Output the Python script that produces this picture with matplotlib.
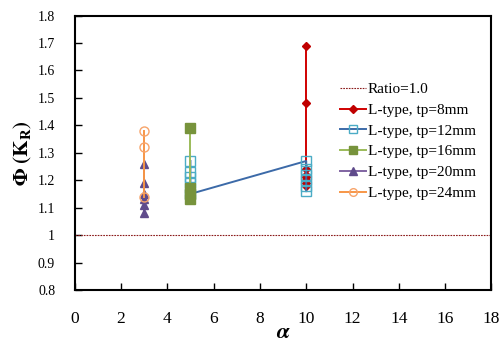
import matplotlib
matplotlib.use("Agg")
import matplotlib.pyplot as plt

# series values (alpha, Phi) per plate thickness
ratio_level = 1.0

a_tp8 = [10, 10, 10, 10, 10, 10, 10, 10]
k_tp8 = [1.69, 1.48, 1.24, 1.22, 1.21, 1.20, 1.19, 1.18]

a_tp12 = [5, 5, 5, 5, 5, 10, 10, 10, 10, 10, 10]
k_tp12 = [1.27, 1.23, 1.21, 1.19, 1.15, 1.27, 1.24, 1.22, 1.20, 1.18, 1.16]

a_tp16 = [5, 5, 5, 5]
k_tp16 = [1.39, 1.17, 1.15, 1.13]

a_tp20 = [3, 3, 3, 3, 3, 3]
k_tp20 = [1.26, 1.19, 1.15, 1.13, 1.11, 1.08]

a_tp24 = [3, 3, 3]
k_tp24 = [1.38, 1.32, 1.14]

x_ticks = [0, 2, 4, 6, 8, 10, 12, 14, 16, 18]
y_ticks = [0.8, 0.9, 1.0, 1.1, 1.2, 1.3, 1.4, 1.5, 1.6, 1.7, 1.8]
y_ticklabels = ["0.8", "0.9", "1", "1.1", "1.2", "1.3", "1.4", "1.5", "1.6", "1.7", "1.8"]

plt.rcParams['font.family'] = ['Liberation Serif', 'DejaVu Serif']
plt.rcParams['mathtext.fontset'] = 'stix'

fig = plt.figure(figsize=(5.01, 3.46), dpi=100)
ax = fig.add_axes([0.149, 0.162, 0.832, 0.793])

ax.axhline(ratio_level, color='#8B1A1A', lw=0.8, ls=(0, (1.5, 1)), label='Ratio=1.0')

ax.plot(a_tp8, k_tp8, color='#D00000', lw=1.4, marker='D', ms=4.5,
        mfc='#C00000', mec='#C00000', label='L-type, tp=8mm')
ax.plot(a_tp12, k_tp12, color='#3C6AA8', lw=1.4, marker='s', ms=6.5,
        mfc='none', mec='#4BACC6', mew=1.0, label='L-type, tp=12mm')
ax.plot(a_tp16, k_tp16, color='#9BBB59', lw=1.4, marker='s', ms=6.5,
        mfc='#77933C', mec='#77933C', label='L-type, tp=16mm')
ax.plot(a_tp20, k_tp20, color='#8064A2', lw=1.4, marker='^', ms=6,
        mfc='#5F4B8B', mec='#5F4B8B', label='L-type, tp=20mm')
ax.plot(a_tp24, k_tp24, color='#F79646', lw=1.4, marker='o', ms=6.5,
        mfc='none', mec='#F7A46A', mew=1.0, label='L-type, tp=24mm')

ax.set_xlim(0, 18)
ax.set_ylim(0.8, 1.8)
ax.set_xticks(x_ticks)
ax.set_yticks(y_ticks)
ax.set_yticklabels(y_ticklabels)

ax.tick_params(axis='x', direction='in', length=5, width=1, pad=15, labelsize=12.5)
ax.tick_params(axis='y', direction='in', length=5, width=1, pad=14, labelsize=10)
for s in ax.spines.values():
    s.set_linewidth(1.5)

ax.set_xlabel(r'$\boldsymbol{\alpha}$', fontsize=16, labelpad=-2)
ax.set_ylabel(r'$\mathbf{\Phi\ (K_R)}$', fontsize=15, labelpad=3)

ax.legend(loc='upper left', bbox_to_anchor=(0.667, 0.779), bbox_transform=fig.transFigure,
          frameon=False, fontsize=11, handlelength=1.7, handletextpad=0.1,
          labelspacing=0.46, borderaxespad=0, markerscale=0.85)

fig.savefig('out.png', dpi=100)
